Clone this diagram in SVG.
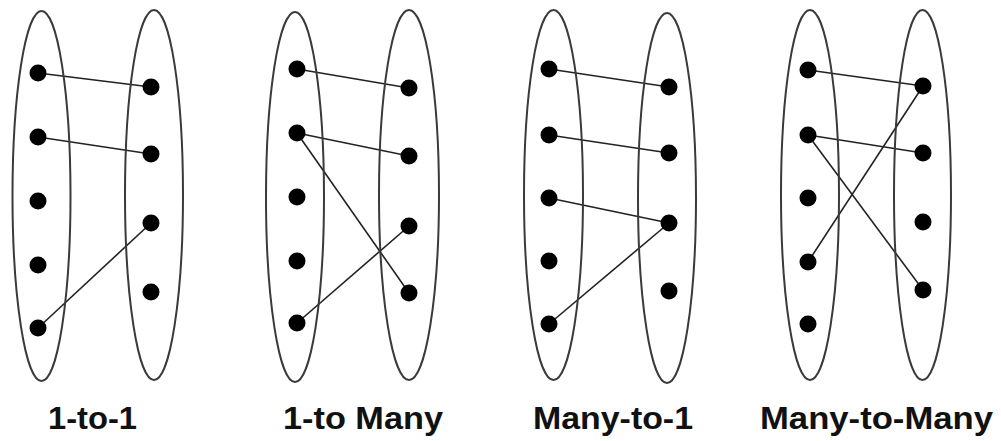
<svg xmlns="http://www.w3.org/2000/svg" width="1001" height="441" viewBox="0 0 1001 441">
<style>
.set{fill:none;stroke:#3a3a3a;stroke-width:2}
.dot{fill:#000}
.edge{stroke:#222;stroke-width:1.6;fill:none}
.lbl{font-family:"Liberation Sans",Arial,sans-serif;font-weight:bold;font-size:32px;fill:#111;text-anchor:middle}
</style>
<rect width="1001" height="441" fill="#fff"/>
<g id="connectors">
<line class="edge" x1="38" y1="73" x2="151" y2="87"/>
<line class="edge" x1="38" y1="137" x2="151" y2="154"/>
<line class="edge" x1="38" y1="328" x2="151" y2="223"/>
<line class="edge" x1="297" y1="69" x2="409" y2="88"/>
<line class="edge" x1="297" y1="133" x2="409" y2="156"/>
<line class="edge" x1="297" y1="133" x2="409" y2="293"/>
<line class="edge" x1="297" y1="323" x2="409" y2="226"/>
<line class="edge" x1="549" y1="69" x2="669" y2="87"/>
<line class="edge" x1="549" y1="135" x2="669" y2="153"/>
<line class="edge" x1="549" y1="198" x2="669" y2="223"/>
<line class="edge" x1="549" y1="324" x2="669" y2="223"/>
<line class="edge" x1="808" y1="70" x2="923" y2="86"/>
<line class="edge" x1="808" y1="135" x2="923" y2="153"/>
<line class="edge" x1="808" y1="135" x2="923" y2="290"/>
<line class="edge" x1="808" y1="262" x2="923" y2="86"/>
</g>
<g id="p1-left">
<ellipse class="set" cx="41.5" cy="196" rx="29" ry="185"/>
<circle class="dot" cx="38" cy="73" r="8.5"/>
<circle class="dot" cx="38" cy="137" r="8.5"/>
<circle class="dot" cx="38" cy="201" r="8.5"/>
<circle class="dot" cx="38" cy="265" r="8.5"/>
<circle class="dot" cx="38" cy="328" r="8.5"/>
</g>
<g id="p1-right">
<ellipse class="set" cx="154" cy="195" rx="29" ry="185"/>
<circle class="dot" cx="151" cy="87" r="8.5"/>
<circle class="dot" cx="151" cy="154" r="8.5"/>
<circle class="dot" cx="151" cy="223" r="8.5"/>
<circle class="dot" cx="151" cy="292" r="8.5"/>
</g>
<g id="p2-left">
<ellipse class="set" cx="295" cy="197" rx="29" ry="185"/>
<circle class="dot" cx="297" cy="69" r="8.5"/>
<circle class="dot" cx="297" cy="133" r="8.5"/>
<circle class="dot" cx="297" cy="197" r="8.5"/>
<circle class="dot" cx="297" cy="261" r="8.5"/>
<circle class="dot" cx="297" cy="323" r="8.5"/>
</g>
<g id="p2-right">
<ellipse class="set" cx="409" cy="195" rx="30" ry="185"/>
<circle class="dot" cx="409" cy="88" r="8.5"/>
<circle class="dot" cx="409" cy="156" r="8.5"/>
<circle class="dot" cx="409" cy="226" r="8.5"/>
<circle class="dot" cx="409" cy="293" r="8.5"/>
</g>
<g id="p3-left">
<ellipse class="set" cx="553.5" cy="195" rx="29.5" ry="185"/>
<circle class="dot" cx="549" cy="69" r="8.5"/>
<circle class="dot" cx="549" cy="135" r="8.5"/>
<circle class="dot" cx="549" cy="198" r="8.5"/>
<circle class="dot" cx="549" cy="261" r="8.5"/>
<circle class="dot" cx="549" cy="324" r="8.5"/>
</g>
<g id="p3-right">
<ellipse class="set" cx="667" cy="198" rx="29" ry="185"/>
<circle class="dot" cx="669" cy="87" r="8.5"/>
<circle class="dot" cx="669" cy="153" r="8.5"/>
<circle class="dot" cx="669" cy="223" r="8.5"/>
<circle class="dot" cx="669" cy="291" r="8.5"/>
</g>
<g id="p4-left">
<ellipse class="set" cx="810" cy="195" rx="29" ry="185"/>
<circle class="dot" cx="808" cy="70" r="8.5"/>
<circle class="dot" cx="808" cy="135" r="8.5"/>
<circle class="dot" cx="808" cy="198" r="8.5"/>
<circle class="dot" cx="808" cy="262" r="8.5"/>
<circle class="dot" cx="808" cy="324" r="8.5"/>
</g>
<g id="p4-right">
<ellipse class="set" cx="922.5" cy="195" rx="28.5" ry="185"/>
<circle class="dot" cx="923" cy="86" r="8.5"/>
<circle class="dot" cx="923" cy="153" r="8.5"/>
<circle class="dot" cx="923" cy="222" r="8.5"/>
<circle class="dot" cx="923" cy="290" r="8.5"/>
</g>
<g id="labels">
<text class="lbl" x="92.5" y="429" textLength="89" lengthAdjust="spacingAndGlyphs">1-to-1</text>
<text class="lbl" x="363" y="429" textLength="160" lengthAdjust="spacingAndGlyphs">1-to Many</text>
<text class="lbl" x="613" y="429" textLength="160" lengthAdjust="spacingAndGlyphs">Many-to-1</text>
<text class="lbl" x="876.5" y="429" textLength="233" lengthAdjust="spacingAndGlyphs">Many-to-Many</text>
</g>
</svg>
